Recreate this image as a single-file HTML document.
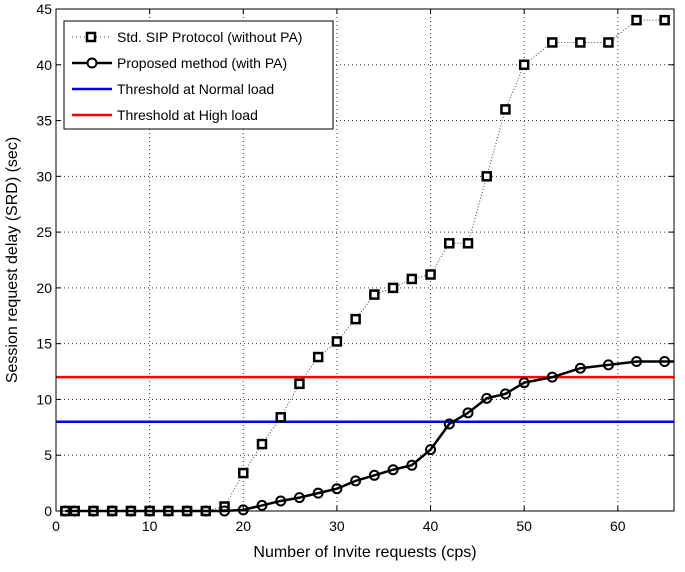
<!DOCTYPE html>
<html><head><meta charset="utf-8"><style>
body{margin:0;background:#fff;}
svg text{font-family:"Liberation Sans",sans-serif;fill:#000;}
</style></head><body>
<svg id="chart" width="685" height="567" xmlns="http://www.w3.org/2000/svg"></svg>
<script>
const xTicks=[0,10,20,30,40,50,60];
const yTicks=[0,5,10,15,20,25,30,35,40,45];
const stdX=[1,2,4,6,8,10,12,14,16,18,20,22,24,26,28,30,32,34,36,38,40,42,44,46,48,50,53,56,59,62,65];
const stdY=[0,0,0,0,0,0,0,0,0,0.4,3.4,6,8.4,11.4,13.8,15.2,17.2,19.4,20,20.8,21.2,24,24,30,36,40,42,42,42,44,44];
const propX=[1,2,4,6,8,10,12,14,16,18,20,22,24,26,28,30,32,34,36,38,40,42,44,46,48,50,53,56,59,62,65];
const propY=[0,0,0,0,0,0,0,0,0,0,0.1,0.5,0.9,1.2,1.6,2,2.7,3.2,3.7,4.1,5.5,7.8,8.8,10.1,10.5,11.5,12,12.8,13.1,13.4,13.4];
const normalThreshold=[8];
const highThreshold=[12];

const L=56,R=674,T=9,B=511,XMAX=66,YMAX=45;
const sx=v=>L+v/XMAX*(R-L);
const sy=v=>B-v/YMAX*(B-T);
const svg=document.getElementById('chart');
const NS='http://www.w3.org/2000/svg';
function mk(tag,attrs,parent){const e=document.createElementNS(NS,tag);for(const k in attrs)e.setAttribute(k,attrs[k]);(parent||svg).appendChild(e);return e;}

xTicks.forEach(t=>{if(t>0){const g=mk('line',{x1:sx(t),x2:sx(t),y1:T,y2:B,stroke:'#333','stroke-width':1,'stroke-dasharray':'1,3'});

}
const tx=mk('text',{x:sx(t),y:B+20,'font-size':14,'text-anchor':'middle'});tx.textContent=t;


mk('line',{x1:sx(t),x2:sx(t),y1:B,y2:B-5,stroke:'#000'});mk('line',{x1:sx(t),x2:sx(t),y1:T,y2:T+5,stroke:'#000'});});
yTicks.forEach(t=>{if(t>0&&t<45){const g=mk('line',{x1:L,x2:R,y1:sy(t),y2:sy(t),stroke:'#333','stroke-width':1,'stroke-dasharray':'1,3'});

}
const tx=mk('text',{x:L-4,y:sy(t)+5,'font-size':14,'text-anchor':'end'});tx.textContent=t;


mk('line',{x1:L,x2:L+5,y1:sy(t),y2:sy(t),stroke:'#000'});mk('line',{x1:R,x2:R-5,y1:sy(t),y2:sy(t),stroke:'#000'});});

const n=mk('line',{x1:L,x2:R,y1:sy(normalThreshold[0]),y2:sy(normalThreshold[0]),stroke:'#0000ff','stroke-width':2.5});


const h=mk('line',{x1:L,x2:R,y1:sy(highThreshold[0]),y2:sy(highThreshold[0]),stroke:'#ff0000','stroke-width':2.5});



const sp=mk('polyline',{points:stdX.map((x,i)=>sx(x)+','+sy(stdY[i])).join(' '),fill:'none',stroke:'#444','stroke-width':1,'stroke-dasharray':'1,2'});


stdX.forEach((x,i)=>{const r=mk('rect',{x:sx(x)-4,y:sy(stdY[i])-4,width:8,height:8,fill:'#fff',stroke:'#000','stroke-width':2.5});

});

const pp=mk('polyline',{points:propX.map((x,i)=>sx(x)+','+sy(propY[i])).join(' ')+' '+R+','+sy(propY[propY.length-1]),fill:'none',stroke:'#000','stroke-width':2.5});


propX.forEach((x,i)=>{const c=mk('circle',{cx:sx(x),cy:sy(propY[i]),r:4.5,fill:'none',stroke:'#000','stroke-width':2});

});

mk('rect',{x:L,y:T,width:R-L,height:B-T,fill:'none',stroke:'#000','stroke-width':1});

const lg=mk('g',{});


mk('rect',{x:64,y:21,width:269,height:108,fill:'#fff',stroke:'#000','stroke-width':1},lg);
const items=[['Std. SIP Protocol (without PA)','std'],['Proposed method (with PA)','prop'],['Threshold at Normal load','#0000ff'],['Threshold at High load','#ff0000']];
items.forEach((it,i)=>{const y=37+i*26;
if(it[1]==='std'){mk('line',{x1:72,x2:110,y1:y,y2:y,stroke:'#444','stroke-dasharray':'1,3'},lg);mk('rect',{x:87,y:y-4,width:8,height:8,fill:'#fff',stroke:'#000','stroke-width':2.5},lg);}
else if(it[1]==='prop'){mk('line',{x1:72,x2:112,y1:y,y2:y,stroke:'#000','stroke-width':2.5},lg);mk('circle',{cx:92,cy:y,r:4.5,fill:'#fff',stroke:'#000','stroke-width':2},lg);}
else mk('line',{x1:72,x2:112,y1:y,y2:y,stroke:it[1],'stroke-width':2.5},lg);
const t=mk('text',{x:117,y:y+5,'font-size':14},lg);t.textContent=it[0];

});

const xt=mk('text',{x:(L+R)/2,y:557,'font-size':16,'text-anchor':'middle'});xt.textContent='Number of Invite requests (cps)';


const yt=mk('text',{x:0,y:0,'font-size':16,'text-anchor':'middle',transform:'translate(17,'+((T+B)/2)+') rotate(-90)'});yt.textContent='Session request delay (SRD) (sec)';


</script>
</body></html>
